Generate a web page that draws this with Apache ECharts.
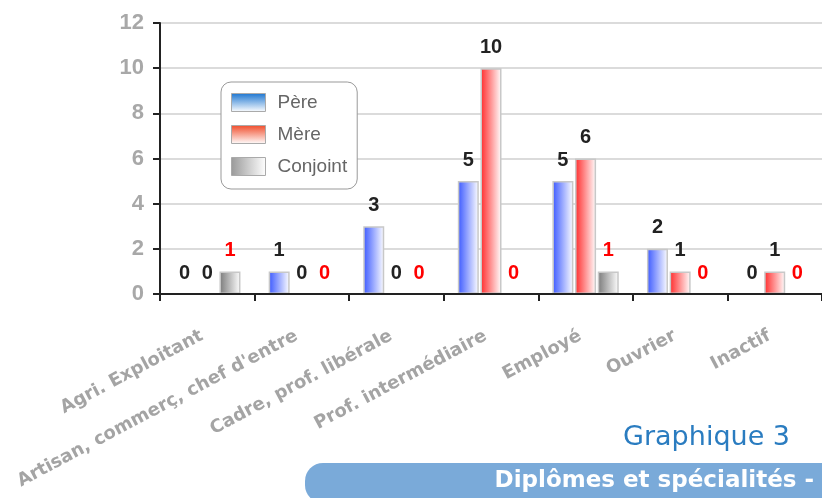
<!DOCTYPE html>
<html><head><meta charset="utf-8">
<script src="https://cdn.jsdelivr.net/npm/echarts@6/dist/echarts.min.js"></script>
<style>html,body{margin:0;padding:0;background:#fff}#c{width:822px;height:498px}</style>
</head><body><div id="c"></div>
<script>
const categories = ['Agri. Exploitant', "Artisan, commerç, chef d'entre", 'Cadre, prof. libérale', 'Prof. intermédiaire', 'Employé', 'Ouvrier', 'Inactif'];
const pere = [0, 1, 3, 5, 5, 2, 0];
const mere = [0, 0, 0, 10, 6, 1, 1];
const conjoint = [1, 0, 0, 0, 1, 0, 0];
const yMin = 0, yMax = 12, yInterval = 2;
const seriesNames = ['Père', 'Mère', 'Conjoint'];

function hGrad(c) { return {type:'linear',x:0,y:0,x2:1,y2:0,colorStops:[{offset:0,color:c},{offset:1,color:'#ffffff'}]}; }
function vGrad(c) { return {type:'linear',x:0,y:0,x2:0,y2:1,colorStops:[{offset:0,color:c},{offset:1,color:'#ffffff'}]}; }
function items(arr) { return arr.map(v => v === 0 ? {value:v, itemStyle:{borderWidth:0}} : v); }

const chart = echarts.init(document.getElementById('c'), null, {renderer:'canvas'});
const barBase = {
  type:'bar', barWidth:21, barGap:'8%',
  label:{show:true, position:'top', distance:11, fontFamily:'Liberation Sans', fontWeight:'bold', fontSize:20, color:'#222'}
};
chart.setOption({
  animation:false,
  grid:{left:160, top:23, width:663, height:271, containLabel:false},
  legend:{
    orient:'vertical', left:221, top:82, padding:[11,10,13,10],
    itemWidth:34, itemHeight:18, itemGap:13, icon:'rect',
    backgroundColor:'#fff', borderColor:'#999', borderWidth:1, borderRadius:10,
    textStyle:{fontFamily:'Liberation Sans', fontSize:19, color:'#666', padding:[0,0,0,7], lineHeight:18},
    data:[
      {name:seriesNames[0], itemStyle:{color:vGrad('#1a74d0'), borderColor:'#aaa', borderWidth:1}},
      {name:seriesNames[1], itemStyle:{color:vGrad('#f04a28'), borderColor:'#aaa', borderWidth:1}},
      {name:seriesNames[2], itemStyle:{color:hGrad('#999999'), borderColor:'#aaa', borderWidth:1}}
    ]
  },
  xAxis:{
    type:'category', data:categories, z:5,
    axisLine:{lineStyle:{color:'#222', width:2}},
    axisTick:{show:true, length:7, lineStyle:{color:'#222', width:2}},
    axisLabel:{interval:0, rotate:28, margin:38, padding:[0,6,0,0], fontFamily:'DejaVu Sans', fontWeight:'bold', fontSize:18, color:'#a4a4a4'}
  },
  yAxis:{
    type:'value', min:yMin, max:yMax, interval:yInterval,
    axisLine:{show:true, lineStyle:{color:'#222', width:2}},
    axisTick:{show:true, length:7, lineStyle:{color:'#222', width:2}},
    splitLine:{lineStyle:{color:'#cfcfcf', width:1.5}},
    axisLabel:{margin:16, fontFamily:'Liberation Sans', fontWeight:'bold', fontSize:22, color:'#a8a8a8'}
  },
  series:[
    Object.assign({}, barBase, {name:seriesNames[0], data:items(pere), itemStyle:{color:hGrad('#3a58ff'), borderColor:'#c8c8c8', borderWidth:1.5}}),
    Object.assign({}, barBase, {name:seriesNames[1], data:items(mere), itemStyle:{color:hGrad('#ff2a2a'), borderColor:'#c8c8c8', borderWidth:1.5}}),
    Object.assign({}, barBase, {name:seriesNames[2], data:items(conjoint), itemStyle:{color:hGrad('#7a7a7a'), borderColor:'#c8c8c8', borderWidth:1.5},
      label:Object.assign({}, barBase.label, {color:'#ff0000'})})
  ],
  graphic:[
    {type:'text', style:{x:790, y:438, text:'Graphique 3', textAlign:'right', textVerticalAlign:'middle', font:'27px "DejaVu Sans"', fill:'#2a7cc0'}},
    {type:'rect', shape:{x:305, y:463, width:540, height:40, r:[18,0,0,18]}, style:{fill:'#7aaad9'}},
    {type:'text', style:{x:814, y:481, text:'Diplômes et spécialités -', textAlign:'right', textVerticalAlign:'middle', font:'bold 23px "DejaVu Sans"', fill:'#ffffff'}}
  ]
});
</script></body></html>
